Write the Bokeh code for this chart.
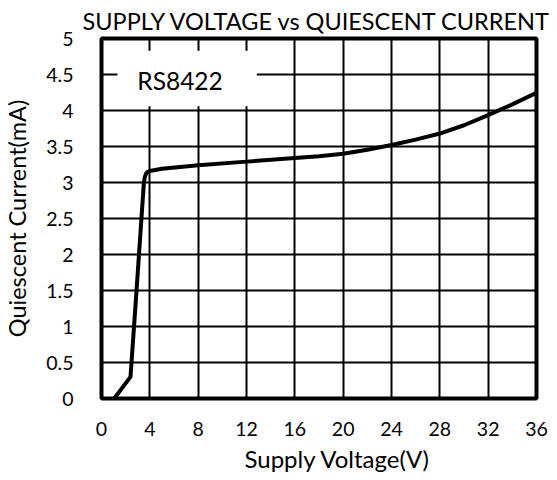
from bokeh.plotting import figure
from bokeh.models import Range1d, BoxAnnotation, Label, FixedTicker, Title
from bokeh.embed import file_html
from bokeh.resources import INLINE

voltage = [1.05, 2.4, 2.9, 3.5, 3.58, 3.68, 3.8, 4.0, 5, 8, 12, 16, 18, 20, 22, 24, 26, 28, 30, 32, 34, 36]
current = [0.0, 0.3, 1.5, 2.98, 3.07, 3.12, 3.145, 3.16, 3.19, 3.24, 3.29, 3.34, 3.365, 3.40, 3.455,
           3.52, 3.595, 3.68, 3.795, 3.935, 4.085, 4.245]
x_ticks = [0, 4, 8, 12, 16, 20, 24, 28, 32, 36]
y_ticks = [0, 0.5, 1, 1.5, 2, 2.5, 3, 3.5, 4, 4.5, 5]
y_labels = {0: "0", 0.5: "0.5", 1: "1", 1.5: "1.5", 2: "2", 2.5: "2.5", 3: "3",
            3.5: "3.5", 4: "4", 4.5: "4.5", 5: "5"}

FONT = "Lato"

p = figure(width=555, height=478, output_backend="svg", toolbar_location=None,
           x_range=Range1d(0, 36), y_range=Range1d(0, 5),
           min_border_left=99, min_border_right=19, min_border_top=38, min_border_bottom=80)

p.title.text = "SUPPLY VOLTAGE vs QUIESCENT CURRENT"
p.title.align = "left"
p.title.offset = -19
p.title.text_font = FONT
p.title.text_font_size = "23.5px"
p.title.text_font_style = "normal"
p.title.text_color = "black"
p.title.standoff = 8

p.outline_line_color = "black"
p.outline_line_width = 4

for ax in (p.xaxis[0], p.yaxis[0]):
    ax.axis_line_color = None
    ax.major_tick_line_color = None
    ax.minor_tick_line_color = None
    ax.major_label_text_font = FONT
    ax.major_label_text_font_size = "19.5px"
    ax.major_label_text_color = "black"
    ax.axis_label_text_font = FONT
    ax.axis_label_text_font_size = "23.5px"
    ax.axis_label_text_font_style = "normal"
    ax.axis_label_text_color = "black"

p.xaxis.ticker = FixedTicker(ticks=x_ticks)
p.yaxis.ticker = FixedTicker(ticks=y_ticks)
p.yaxis.major_label_overrides = y_labels
p.xaxis.major_label_standoff = 17
p.yaxis.major_label_standoff = 22
p.yaxis.axis_label_standoff = 12
p.yaxis.axis_label = "Quiescent Current(mA)"

xlabel = Title(text="Supply Voltage(V)", align="left", offset=143, text_font=FONT,
               text_font_size="24px", text_font_style="normal", text_color="black", standoff=6)
p.add_layout(xlabel, "below")

p.xgrid.grid_line_color = "black"
p.ygrid.grid_line_color = "black"
p.xgrid.grid_line_width = 2
p.ygrid.grid_line_width = 2
p.xgrid.grid_line_alpha = 1
p.ygrid.grid_line_alpha = 1

box = BoxAnnotation(left=1.32, right=12.85, bottom=4.06, top=4.83,
                    fill_color="white", fill_alpha=1, line_color=None)
p.add_layout(box)
p.add_layout(Label(x=6.5, y=4.42, text="RS8422", text_align="center", text_baseline="middle",
                   text_font=FONT, text_font_size="24.5px", text_color="black"))

p.line(voltage, current, line_color="black", line_width=4, line_join="round")

open("out.html", "w").write(file_html(p, INLINE))
